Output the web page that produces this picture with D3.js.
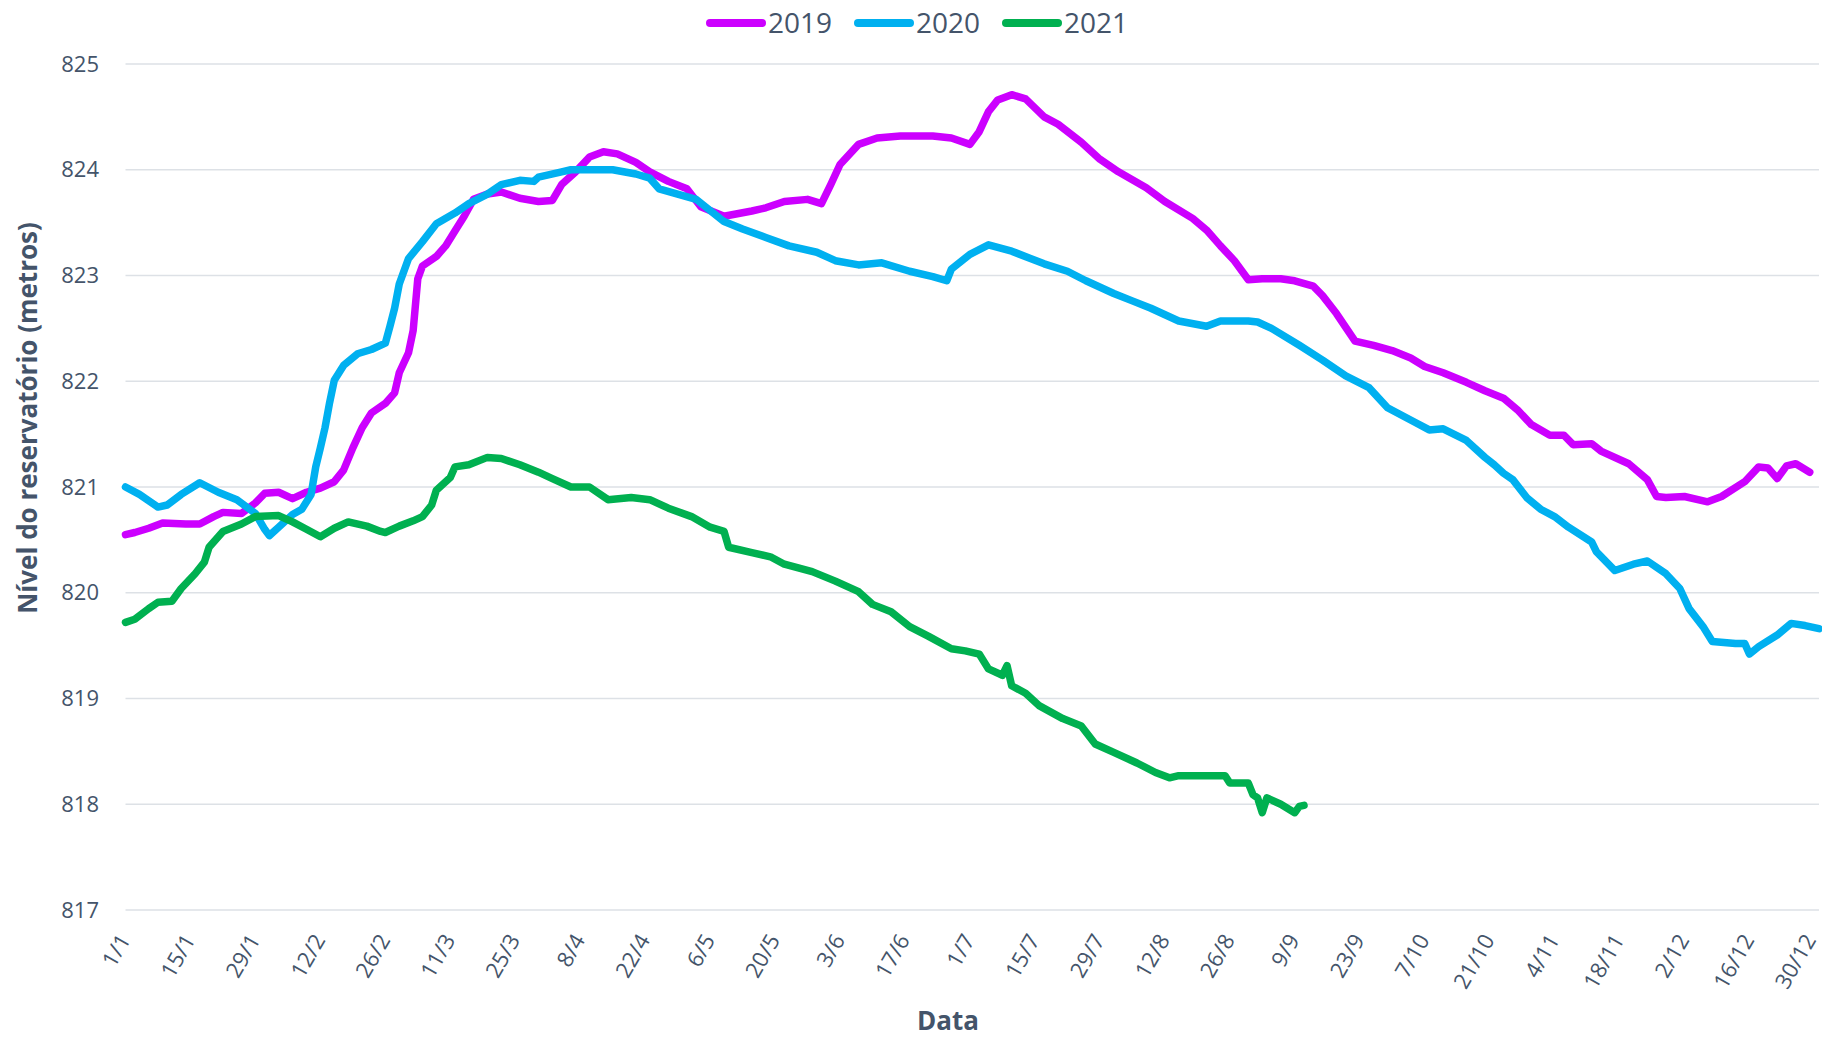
<!DOCTYPE html>
<html>
<head>
<meta charset="utf-8">
<script src="https://cdn.jsdelivr.net/npm/d3@7"></script>
<style>
  body { margin: 0; background: #fff; }
</style>
</head>
<body>
<script>
// day index on a leap-year axis (0 = 1/1, 365 = 31/12)
const days2019 = [0, 2, 5, 8, 13, 16, 19, 21, 25, 28, 30, 33, 36, 39, 42, 45, 47, 49, 51, 53, 56, 58, 59, 61, 62, 63, 64, 67, 69, 71, 73, 75, 78, 81, 85, 89, 92, 94, 97, 100, 103, 106, 110, 113, 117, 121, 124, 129, 135, 138, 142, 147, 150, 152, 154, 158, 162, 167, 174, 178, 182, 184, 186, 188, 191, 194, 198, 201, 206, 210, 214, 220, 224, 230, 233, 236, 239, 242, 245, 249, 252, 256, 258, 261, 265, 269, 273, 277, 280, 284, 289, 293, 297, 300, 303, 307, 310, 312, 316, 318, 324, 328, 330, 332, 336, 341, 344, 349, 352, 354, 356, 358, 360, 363];
const level2019 = [820.55, 820.57, 820.61, 820.66, 820.65, 820.65, 820.72, 820.76, 820.75, 820.85, 820.94, 820.95, 820.89, 820.95, 820.99, 821.05, 821.16, 821.37, 821.56, 821.70, 821.79, 821.89, 822.08, 822.27, 822.48, 822.97, 823.09, 823.18, 823.28, 823.42, 823.56, 823.72, 823.77, 823.79, 823.73, 823.70, 823.71, 823.86, 823.98, 824.12, 824.17, 824.15, 824.07, 823.98, 823.89, 823.82, 823.65, 823.56, 823.61, 823.64, 823.70, 823.72, 823.68, 823.86, 824.05, 824.24, 824.30, 824.32, 824.32, 824.30, 824.24, 824.36, 824.55, 824.66, 824.71, 824.67, 824.50, 824.43, 824.26, 824.10, 823.98, 823.83, 823.70, 823.54, 823.43, 823.28, 823.14, 822.96, 822.97, 822.97, 822.95, 822.90, 822.81, 822.64, 822.38, 822.34, 822.29, 822.22, 822.14, 822.08, 821.99, 821.91, 821.84, 821.73, 821.59, 821.49, 821.49, 821.40, 821.41, 821.34, 821.22, 821.07, 820.91, 820.90, 820.91, 820.86, 820.91, 821.05, 821.19, 821.18, 821.08, 821.20, 821.22, 821.14];

const days2020 = [0, 3, 7, 9, 12, 16, 20, 24, 28, 30, 31, 33, 36, 38, 40, 41, 42, 43, 44, 45, 47, 50, 53, 56, 57, 58, 59, 61, 64, 67, 71, 74, 78, 81, 85, 88, 89, 94, 96, 100, 105, 110, 113, 115, 119, 123, 129, 133, 138, 143, 149, 153, 158, 163, 169, 174, 177, 178, 182, 186, 191, 198, 203, 207, 213, 217, 221, 227, 233, 236, 242, 244, 247, 253, 258, 263, 268, 272, 278, 281, 284, 289, 293, 295, 297, 299, 302, 305, 308, 311, 316, 317, 321, 325, 328, 332, 335, 337, 340, 342, 347, 349, 350, 352, 356, 359, 362, 365];
const level2020 = [821.00, 820.93, 820.81, 820.83, 820.93, 821.04, 820.95, 820.88, 820.75, 820.60, 820.54, 820.62, 820.74, 820.79, 820.93, 821.19, 821.37, 821.56, 821.80, 822.01, 822.15, 822.26, 822.30, 822.36, 822.52, 822.69, 822.92, 823.16, 823.32, 823.49, 823.59, 823.68, 823.77, 823.86, 823.90, 823.89, 823.93, 823.98, 824.00, 824.00, 824.00, 823.96, 823.92, 823.82, 823.77, 823.72, 823.51, 823.44, 823.36, 823.28, 823.22, 823.14, 823.10, 823.12, 823.04, 822.99, 822.95, 823.06, 823.20, 823.29, 823.23, 823.11, 823.04, 822.95, 822.83, 822.76, 822.69, 822.57, 822.52, 822.57, 822.57, 822.56, 822.50, 822.34, 822.20, 822.05, 821.94, 821.75, 821.61, 821.54, 821.55, 821.44, 821.28, 821.21, 821.13, 821.07, 820.90, 820.79, 820.72, 820.62, 820.48, 820.39, 820.21, 820.27, 820.30, 820.18, 820.04, 819.85, 819.68, 819.54, 819.52, 819.52, 819.42, 819.49, 819.60, 819.71, 819.69, 819.66];

const days2021 = [0, 2, 5, 7, 10, 12, 15, 17, 18, 21, 25, 28, 33, 36, 39, 42, 45, 48, 52, 55, 56, 59, 62, 64, 66, 67, 70, 71, 74, 78, 81, 85, 89, 92, 96, 100, 104, 109, 113, 117, 122, 126, 129, 130, 135, 139, 142, 148, 153, 158, 161, 165, 169, 173, 178, 181, 184, 186, 189, 190, 191, 194, 197, 202, 206, 209, 213, 218, 222, 225, 227, 235, 237, 238, 242, 243, 244, 245, 246, 249, 252, 253, 254];
const level2021 = [819.72, 819.75, 819.85, 819.91, 819.92, 820.04, 820.18, 820.29, 820.43, 820.58, 820.65, 820.72, 820.73, 820.67, 820.60, 820.53, 820.61, 820.67, 820.63, 820.58, 820.57, 820.63, 820.68, 820.72, 820.83, 820.97, 821.09, 821.19, 821.21, 821.28, 821.27, 821.21, 821.14, 821.08, 821.00, 821.00, 820.88, 820.90, 820.88, 820.80, 820.72, 820.62, 820.58, 820.43, 820.38, 820.34, 820.27, 820.20, 820.11, 820.01, 819.89, 819.82, 819.68, 819.59, 819.47, 819.45, 819.42, 819.28, 819.22, 819.31, 819.12, 819.05, 818.93, 818.81, 818.74, 818.57, 818.49, 818.39, 818.30, 818.25, 818.27, 818.27, 818.27, 818.20, 818.20, 818.09, 818.06, 817.92, 818.06, 818.00, 817.92, 817.98, 817.99];

const seriesNames = ["2019", "2020", "2021"];
const seriesColors = ["#CC00FF", "#00B0F0", "#00B050"];

const xTickLabels = ["1/1", "15/1", "29/1", "12/2", "26/2", "11/3", "25/3", "8/4", "22/4", "6/5", "20/5", "3/6", "17/6", "1/7", "15/7", "29/7", "12/8", "26/8", "9/9", "23/9", "7/10", "21/10", "4/11", "18/11", "2/12", "16/12", "30/12"];
const yTickValues = [817, 818, 819, 820, 821, 822, 823, 824, 825];

const width = 1822, height = 1039;
const textColor = "#44546A";
const font = "'Open Sans', sans-serif";

const series = [
  {name: seriesNames[0], color: seriesColors[0], values: days2019.map((d, i) => ({day: d, level: level2019[i]}))},
  {name: seriesNames[1], color: seriesColors[1], values: days2020.map((d, i) => ({day: d, level: level2020[i]}))},
  {name: seriesNames[2], color: seriesColors[2], values: days2021.map((d, i) => ({day: d, level: level2021[i]}))}
];

const x = d3.scaleLinear()
    .domain([0, 365])
    .range([125.5, 1819]);

const y = d3.scaleLinear()
    .domain([817, 825])
    .range([910, 64]);

const line = d3.line()
    .x(d => x(d.day))
    .y(d => y(d.level));

const svg = d3.select("body").append("svg")
    .attr("width", width)
    .attr("height", height)
    .style("font-family", font)
    .style("background", "#fff");

// horizontal gridlines
svg.append("g")
  .selectAll("line")
  .data(yTickValues)
  .enter().append("line")
    .attr("x1", x(0))
    .attr("x2", x(365))
    .attr("y1", d => y(d))
    .attr("y2", d => y(d))
    .attr("stroke", "#DDE1E6")
    .attr("stroke-width", 1.5);

// y tick labels
svg.append("g")
  .selectAll("text")
  .data(yTickValues)
  .enter().append("text")
    .attr("x", 99)
    .attr("y", d => y(d))
    .attr("dy", "0.35em")
    .attr("text-anchor", "end")
    .attr("fill", textColor)
    .style("font-size", "22px")
    .text(d => d);

// x tick labels, one every 14 days (kept inside the right edge)
svg.append("g")
  .selectAll("text")
  .data(xTickLabels)
  .enter().append("text")
    .attr("transform", (d, i) => `translate(${Math.min(x(i * 14) - 1, width - 12)},${936}) rotate(-60)`)
    .attr("dy", "0.35em")
    .attr("text-anchor", "end")
    .attr("fill", textColor)
    .style("font-size", "22px")
    .text(d => d);

// lines
svg.append("g")
  .selectAll("path")
  .data(series)
  .enter().append("path")
    .attr("d", d => line(d.values))
    .attr("fill", "none")
    .attr("stroke", d => d.color)
    .attr("stroke-width", 7.5)
    .attr("stroke-linejoin", "round")
    .attr("stroke-linecap", "round");

// legend
const legend = svg.append("g")
  .selectAll("g")
  .data(series)
  .enter().append("g")
    .attr("transform", (d, i) => `translate(${710 + i * 148},23)`);

legend.append("line")
    .attr("x1", 0)
    .attr("x2", 52)
    .attr("stroke", d => d.color)
    .attr("stroke-width", 8)
    .attr("stroke-linecap", "round");

legend.append("text")
    .attr("x", 58)
    .attr("dy", "0.35em")
    .attr("fill", textColor)
    .style("font-size", "28px")
    .text(d => d.name);

// axis titles
svg.append("text")
    .attr("transform", "translate(28,418) rotate(-90)")
    .attr("dy", "0.35em")
    .attr("text-anchor", "middle")
    .attr("fill", textColor)
    .style("font-size", "26px")
    .style("font-weight", "bold")
    .text("Nível do reservatório (metros)");

svg.append("text")
    .attr("x", 948)
    .attr("y", 1030)
    .attr("text-anchor", "middle")
    .attr("fill", textColor)
    .style("font-size", "26px")
    .style("font-weight", "bold")
    .text("Data");
</script>
</body>
</html>
